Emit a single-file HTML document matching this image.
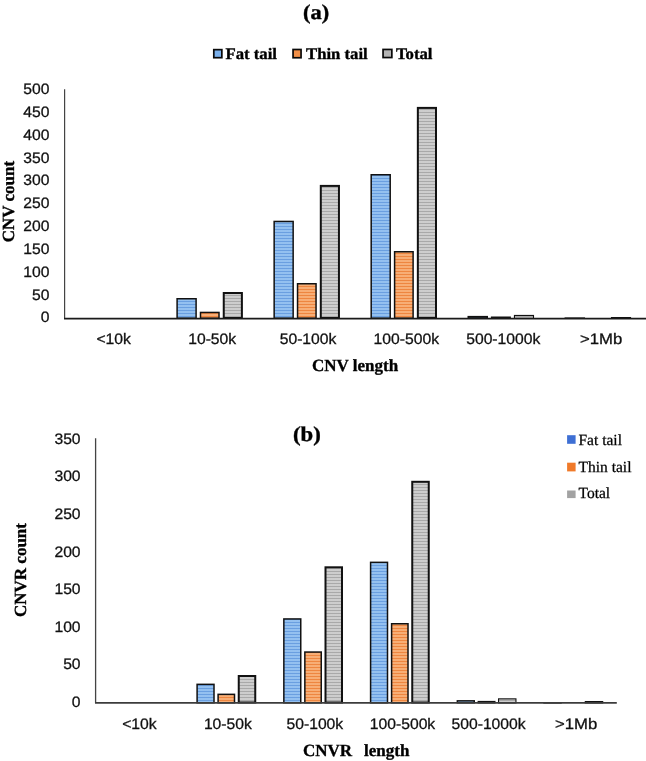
<!DOCTYPE html>
<html><head><meta charset="utf-8"><style>
html,body{margin:0;padding:0;background:#fff;width:646px;height:761px;overflow:hidden}
svg{display:block;text-rendering:geometricPrecision}
svg{will-change:transform}
.tk{font-family:"Liberation Sans",sans-serif;font-size:15.2px;fill:#111;stroke:#111;stroke-width:0.3px}
.tt{font-family:"Liberation Serif",serif;font-weight:bold;font-size:17px;fill:#000;stroke:#000;stroke-width:0.35px}
.lg{font-family:"Liberation Serif",serif;font-weight:bold;font-size:16px;fill:#000;stroke:#000;stroke-width:0.35px}
.lg2{font-family:"Liberation Serif",serif;font-size:15.5px;fill:#000;stroke:#000;stroke-width:0.25px}
.ti{font-family:"Liberation Serif",serif;font-weight:bold;font-size:21px;fill:#000;stroke:#000;stroke-width:0.4px}
</style></head><body>
<svg width="646" height="761" viewBox="0 0 646 761">
<defs>
<linearGradient id="gb" x1="0" y1="0" x2="0" y2="1"><stop offset="0" stop-color="#a8d1f8"/><stop offset="0.5" stop-color="#6a9fe0"/><stop offset="1" stop-color="#a8d1f8"/></linearGradient>
<linearGradient id="go" x1="0" y1="0" x2="0" y2="1"><stop offset="0" stop-color="#fcc290"/><stop offset="0.5" stop-color="#ee8640"/><stop offset="1" stop-color="#fcc290"/></linearGradient>
<linearGradient id="gg" x1="0" y1="0" x2="0" y2="1"><stop offset="0" stop-color="#e0e0e0"/><stop offset="0.5" stop-color="#a9a9a9"/><stop offset="1" stop-color="#e0e0e0"/></linearGradient>
<pattern id="pb" patternUnits="userSpaceOnUse" width="4" height="3"><rect width="4" height="3" fill="url(#gb)"/></pattern>
<pattern id="po" patternUnits="userSpaceOnUse" width="4" height="3"><rect width="4" height="3" fill="url(#go)"/></pattern>
<pattern id="pg" patternUnits="userSpaceOnUse" width="4" height="3"><rect width="4" height="3" fill="url(#gg)"/></pattern>
</defs>
<!-- chart a -->
<text x="303" y="19.1" class="ti" textLength="26.1" lengthAdjust="spacingAndGlyphs">(a)</text>
<rect x="213.8" y="49.65" width="8.05" height="8.05" fill="#7ab0ec" stroke="#0a0a0a" stroke-width="1.7"/>
<text x="225.5" y="59" class="lg" textLength="51.45" lengthAdjust="spacingAndGlyphs">Fat tail</text>
<rect x="293.05" y="49.5" width="8.0" height="8.25" fill="#f29048" stroke="#0a0a0a" stroke-width="1.7"/>
<text x="306" y="59" class="lg" textLength="61.69" lengthAdjust="spacingAndGlyphs">Thin tail</text>
<rect x="383.05" y="49.45" width="8.8" height="8.1" fill="#b4b4b4" stroke="#0a0a0a" stroke-width="1.7"/>
<text x="396" y="59" class="lg" textLength="36.48" lengthAdjust="spacingAndGlyphs">Total</text>
<text x="49.5" y="322.35" text-anchor="end" class="tk" textLength="8.73" lengthAdjust="spacingAndGlyphs">0</text><text x="49.5" y="299.53" text-anchor="end" class="tk" textLength="17.45" lengthAdjust="spacingAndGlyphs">50</text><text x="49.5" y="276.71" text-anchor="end" class="tk" textLength="26.19" lengthAdjust="spacingAndGlyphs">100</text><text x="49.5" y="253.89" text-anchor="end" class="tk" textLength="26.19" lengthAdjust="spacingAndGlyphs">150</text><text x="49.5" y="231.07" text-anchor="end" class="tk" textLength="26.19" lengthAdjust="spacingAndGlyphs">200</text><text x="49.5" y="208.25" text-anchor="end" class="tk" textLength="26.19" lengthAdjust="spacingAndGlyphs">250</text><text x="49.5" y="185.43" text-anchor="end" class="tk" textLength="26.19" lengthAdjust="spacingAndGlyphs">300</text><text x="49.5" y="162.61" text-anchor="end" class="tk" textLength="26.19" lengthAdjust="spacingAndGlyphs">350</text><text x="49.5" y="139.79" text-anchor="end" class="tk" textLength="26.19" lengthAdjust="spacingAndGlyphs">400</text><text x="49.5" y="116.97" text-anchor="end" class="tk" textLength="26.19" lengthAdjust="spacingAndGlyphs">450</text><text x="49.5" y="94.15" text-anchor="end" class="tk" textLength="26.19" lengthAdjust="spacingAndGlyphs">500</text>
<rect x="177.10" y="298.75" width="19.00" height="19.50" fill="url(#pb)" stroke="#111" stroke-width="1.5"/>
<rect x="200.50" y="312.45" width="18.50" height="5.80" fill="url(#po)" stroke="#111" stroke-width="1.5"/>
<rect x="223.75" y="293.00" width="18.15" height="25.00" fill="url(#pg)" stroke="#111" stroke-width="2"/>
<rect x="274.15" y="221.45" width="19.00" height="96.80" fill="url(#pb)" stroke="#111" stroke-width="1.5"/>
<rect x="297.55" y="283.75" width="18.50" height="34.50" fill="url(#po)" stroke="#111" stroke-width="1.5"/>
<rect x="320.80" y="185.90" width="18.15" height="132.10" fill="url(#pg)" stroke="#111" stroke-width="2"/>
<rect x="371.20" y="174.75" width="19.00" height="143.50" fill="url(#pb)" stroke="#111" stroke-width="1.5"/>
<rect x="394.60" y="251.75" width="18.50" height="66.50" fill="url(#po)" stroke="#111" stroke-width="1.5"/>
<rect x="417.85" y="107.90" width="18.15" height="210.10" fill="url(#pg)" stroke="#111" stroke-width="2"/>
<rect x="468.25" y="316.65" width="19.00" height="1.60" fill="url(#pb)" stroke="#111" stroke-width="1.5"/>
<rect x="491.65" y="317.25" width="18.50" height="1.00" fill="url(#po)" stroke="#111" stroke-width="1.5"/>
<rect x="514.45" y="315.45" width="19.05" height="3.00" fill="url(#pg)" stroke="#111" stroke-width="1.1"/>
<rect x="565.30" y="318.15" width="19.00" height="0.10" fill="url(#pb)" stroke="#111" stroke-width="1.5"/>
<rect x="611.50" y="317.55" width="19.05" height="0.90" fill="url(#pg)" stroke="#111" stroke-width="1.1"/>
<line x1="64.6" y1="89.3" x2="64.6" y2="319" stroke="#444" stroke-width="1.2"/>
<line x1="64" y1="318.7" x2="646" y2="318.7" stroke="#1a1a1a" stroke-width="1.8"/>
<text x="96.4" y="344.2" class="tk" textLength="34.47" lengthAdjust="spacingAndGlyphs">&lt;10k</text>
<text x="188.2" y="344.2" class="tk" textLength="47.97" lengthAdjust="spacingAndGlyphs">10-50k</text>
<text x="279.7" y="344.2" class="tk" textLength="56.7" lengthAdjust="spacingAndGlyphs">50-100k</text>
<text x="373.6" y="344.2" class="tk" textLength="65.42" lengthAdjust="spacingAndGlyphs">100-500k</text>
<text x="466.2" y="344.2" class="tk" textLength="74.14" lengthAdjust="spacingAndGlyphs">500-1000k</text>
<text x="580.0" y="344.2" class="tk" textLength="42.3" lengthAdjust="spacingAndGlyphs">&gt;1Mb</text>
<text x="312" y="370.9" class="tt">CNV length</text>
<text transform="translate(14.2,242.3) rotate(-90)" class="tt">CNV count</text>
<!-- chart b -->
<text x="293" y="441" class="ti" textLength="27.8" lengthAdjust="spacingAndGlyphs">(b)</text>
<rect x="567.1" y="435.2" width="8.5" height="8.6" fill="#3e6fd4"/>
<text x="578.5" y="444.7" class="lg2">Fat tail</text>
<rect x="567.1" y="462.7" width="8.5" height="8.7" fill="#f07a2a"/>
<text x="578.5" y="472" class="lg2">Thin tail</text>
<rect x="567.1" y="490.5" width="8.5" height="7.6" fill="#a2a2a2"/>
<text x="578.5" y="498.4" class="lg2">Total</text>
<text x="80.6" y="707.00" text-anchor="end" class="tk" textLength="8.73" lengthAdjust="spacingAndGlyphs">0</text><text x="80.6" y="669.41" text-anchor="end" class="tk" textLength="17.45" lengthAdjust="spacingAndGlyphs">50</text><text x="80.6" y="631.82" text-anchor="end" class="tk" textLength="26.19" lengthAdjust="spacingAndGlyphs">100</text><text x="80.6" y="594.23" text-anchor="end" class="tk" textLength="26.19" lengthAdjust="spacingAndGlyphs">150</text><text x="80.6" y="556.64" text-anchor="end" class="tk" textLength="26.19" lengthAdjust="spacingAndGlyphs">200</text><text x="80.6" y="519.05" text-anchor="end" class="tk" textLength="26.19" lengthAdjust="spacingAndGlyphs">250</text><text x="80.6" y="481.46" text-anchor="end" class="tk" textLength="26.19" lengthAdjust="spacingAndGlyphs">300</text><text x="80.6" y="443.87" text-anchor="end" class="tk" textLength="26.19" lengthAdjust="spacingAndGlyphs">350</text>
<rect x="197.10" y="684.35" width="16.90" height="18.40" fill="url(#pb)" stroke="#111" stroke-width="1.5"/>
<rect x="218.10" y="694.35" width="16.40" height="8.40" fill="url(#po)" stroke="#111" stroke-width="1.5"/>
<rect x="238.75" y="676.00" width="16.50" height="26.50" fill="url(#pg)" stroke="#111" stroke-width="2"/>
<rect x="283.85" y="618.95" width="16.90" height="83.80" fill="url(#pb)" stroke="#111" stroke-width="1.5"/>
<rect x="304.85" y="652.05" width="16.40" height="50.70" fill="url(#po)" stroke="#111" stroke-width="1.5"/>
<rect x="325.50" y="567.30" width="16.50" height="135.20" fill="url(#pg)" stroke="#111" stroke-width="2"/>
<rect x="370.60" y="562.35" width="16.90" height="140.40" fill="url(#pb)" stroke="#111" stroke-width="1.5"/>
<rect x="391.60" y="623.75" width="16.40" height="79.00" fill="url(#po)" stroke="#111" stroke-width="1.5"/>
<rect x="412.25" y="481.80" width="16.50" height="220.70" fill="url(#pg)" stroke="#111" stroke-width="2"/>
<rect x="457.35" y="700.85" width="16.90" height="1.90" fill="url(#pb)" stroke="#111" stroke-width="1.5"/>
<rect x="478.35" y="701.65" width="16.40" height="1.10" fill="url(#po)" stroke="#111" stroke-width="1.5"/>
<rect x="498.55" y="698.85" width="17.40" height="4.10" fill="url(#pg)" stroke="#111" stroke-width="1.1"/>
<rect x="544.10" y="702.75" width="16.90" height="0.10" fill="url(#pb)" stroke="#111" stroke-width="1.5"/>
<rect x="585.30" y="701.55" width="17.40" height="1.40" fill="url(#pg)" stroke="#111" stroke-width="1.1"/>
<line x1="95.6" y1="438.2" x2="95.6" y2="703" stroke="#444" stroke-width="1.3"/>
<line x1="95" y1="702.8" x2="616.8" y2="702.8" stroke="#3c3c3c" stroke-width="1.8"/>
<text x="122.2" y="729.2" class="tk" textLength="34.47" lengthAdjust="spacingAndGlyphs">&lt;10k</text>
<text x="203.9" y="729.2" class="tk" textLength="47.97" lengthAdjust="spacingAndGlyphs">10-50k</text>
<text x="286.5" y="729.2" class="tk" textLength="56.7" lengthAdjust="spacingAndGlyphs">50-100k</text>
<text x="369.8" y="729.2" class="tk" textLength="65.42" lengthAdjust="spacingAndGlyphs">100-500k</text>
<text x="451.5" y="729.2" class="tk" textLength="74.14" lengthAdjust="spacingAndGlyphs">500-1000k</text>
<text x="554.9" y="729.2" class="tk" textLength="42.3" lengthAdjust="spacingAndGlyphs">&gt;1Mb</text>
<text x="303" y="755.6" class="tt">CNVR</text>
<text x="364" y="755.6" class="tt">length</text>
<text transform="translate(25.7,617) rotate(-90)" class="tt">CNVR count</text>
</svg>
</body></html>
